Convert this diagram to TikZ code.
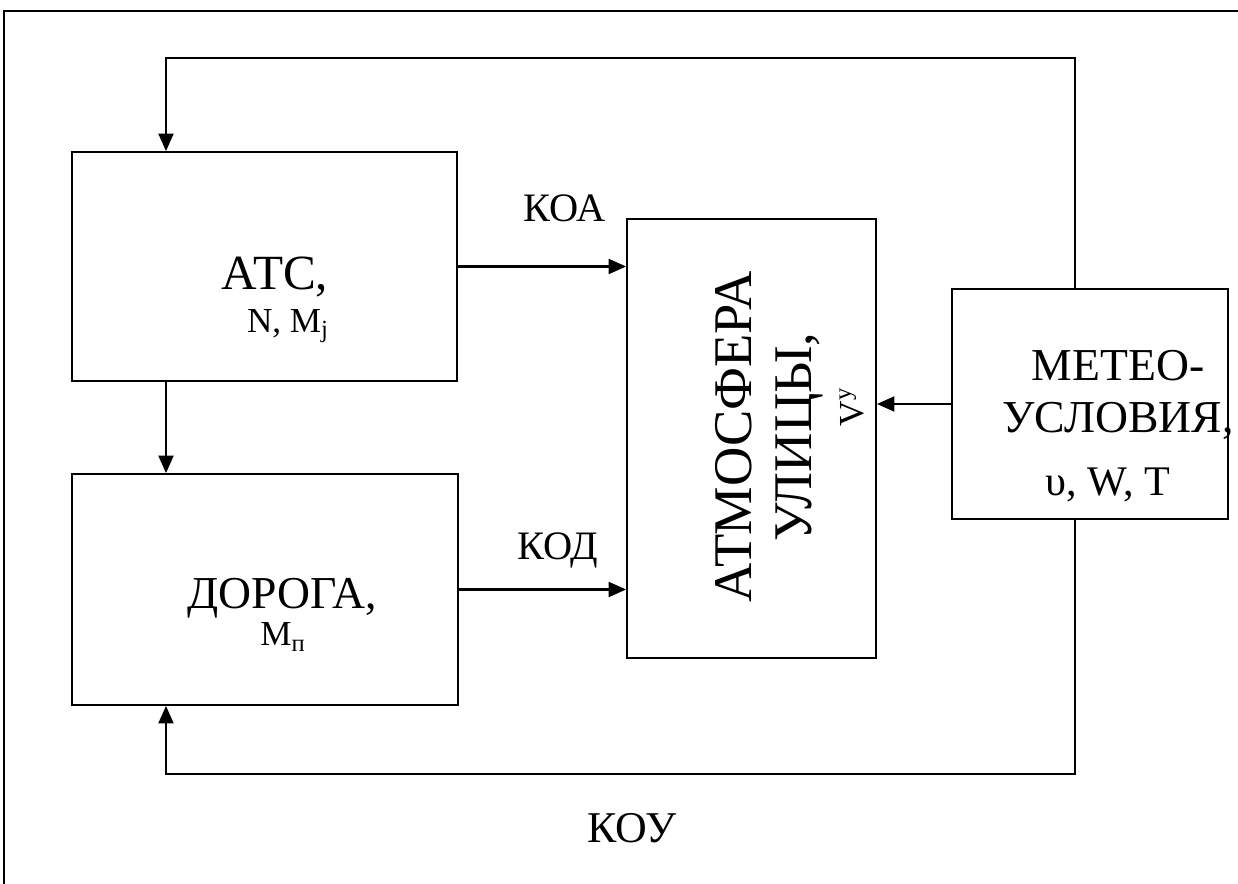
\documentclass[tikz,border=0pt]{standalone}
\usepackage{fontspec}
\setmainfont{Liberation Serif}
\usetikzlibrary{positioning, arrows.meta}

\begin{document}
\begin{tikzpicture} [
      x=0.02cm, y=-0.02cm,
      >={Triangle[length=10pt, width=8.5pt]},
      block/.style={rectangle, draw=black, line width=1pt, inner sep=0pt},
      flow/.style={->, line width=1.3pt, draw=black},
      frame/.style={draw=black, line width=1pt},
      title/.style={font=\fontsize{28}{30}\selectfont, inner sep=0pt},
      sub/.style={font=\fontsize{20}{22}\selectfont, inner sep=0pt},
      note/.style={font=\fontsize{23}{25}\selectfont, inner sep=0pt}
  ]
  \useasboundingbox (0,0) rectangle (1238,884);
  \draw[frame] (4,11) rectangle (1300,950);

  \node[block, minimum width=7.7cm, minimum height=4.58cm] (atc) at (264.5,266.5) {};
  \node[block, minimum width=7.72cm, minimum height=4.62cm] (road) at (265,589.5) {};
  \node[block, minimum width=4.98cm, minimum height=8.78cm] (atmo) at (751.5,438.5) {};
  \node[block, minimum width=5.52cm, minimum height=4.6cm] (meteo) at (1090,404) {};

  \node[title] (atcname) at (275,277) {АТС,};
  \node[sub] (atcpar) at (288,326) {N, M\textsubscript{j}};
  \node[title, font=\fontsize{26}{28}\selectfont] (roadname) at (282,598) {ДОРОГА,};
  \node[sub] (roadpar) at (283,637) {M\textsubscript{п}};
  \node[rotate=90, align=center, inner sep=0pt, font=\fontsize{31}{34}\selectfont] (atmoname) at (790,437)
    {АТМОСФЕРА\\УЛИЦЫ,\\[-4pt]{\fontsize{20}{22}\selectfont\hspace*{1.2cm}V\textsuperscript{у}}};
  \node[align=center, inner sep=0pt, font=\fontsize{26}{30}\selectfont] (meteoname) at (1118,395)
    {МЕТЕО-\\УСЛОВИЯ,};
  \node[sub, font=\fontsize{24}{26}\selectfont] (meteopar) at (1108,485) {υ, W, T};

  \coordinate (tl) at (166,58);
  \coordinate (tr) at (1075,58);
  \coordinate (bl) at (166,774);
  \coordinate (br) at (1075,774);

  \draw[flow] (atc.east) -- (atmo.west |- atc.east);
  \draw[flow] (road.east) -- (atmo.west |- road.east);
  \node[note] (koa) at (565,208) {КОА};
  \node[note] (kod) at (558,550) {КОД};
  \draw[flow] (meteo.west) -- (atmo.east |- meteo.west);
  \draw[flow] (atc.south -| tl) -- (road.north -| tl);
  \draw[flow] (meteo.north -| tr) -- (tr) -- (tl) -- (tl |- atc.north);
  \draw[flow] (meteo.south -| br) -- (br) -- (bl) -- (bl |- road.south);
  \node[note, font=\fontsize{25}{27}\selectfont] (koy) at (632,828) {КОУ};
\end{tikzpicture}
\end{document}
